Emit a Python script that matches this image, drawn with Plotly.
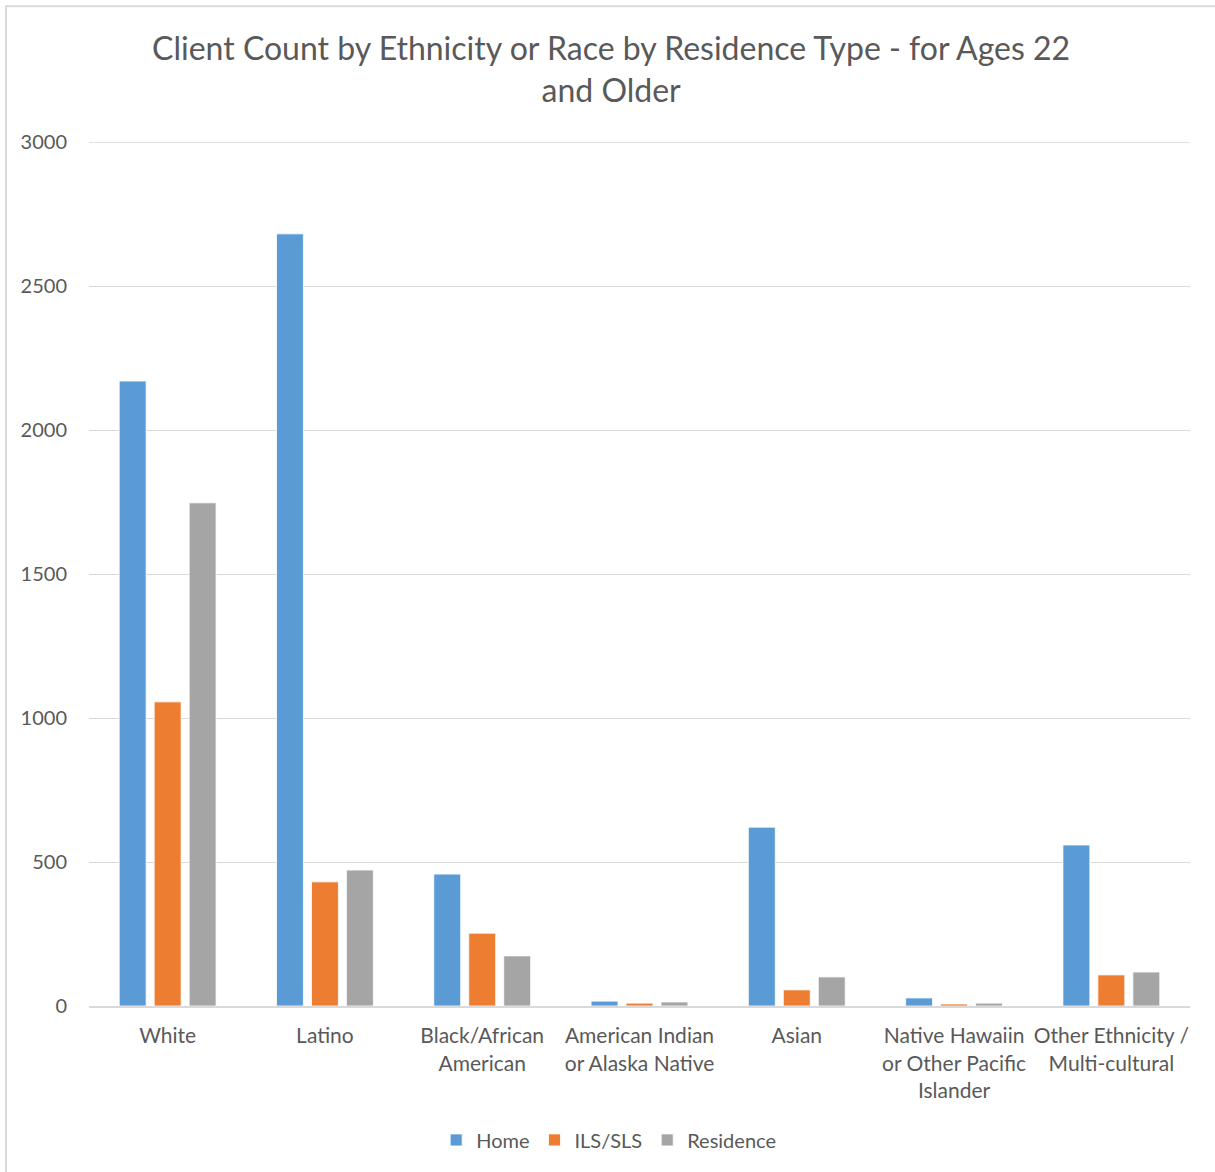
import plotly.graph_objects as go

# Client counts (ages 22+) by ethnicity/race and residence type
categories = [
    "White",
    "Latino",
    "Black/African<br>American",
    "American Indian<br>or Alaska Native",
    "Asian",
    "Native Hawaiin<br>or Other Pacific<br>Islander",
    "Other Ethnicity /<br>Multi-cultural",
]
home = [2170, 2681, 458, 17, 621, 28, 559]
ils_sls = [1056, 431, 253, 10, 56, 7, 108]
residence = [1747, 472, 174, 14, 101, 10, 118]

y_ticks = [0, 500, 1000, 1500, 2000, 2500, 3000]

FONT = "Lato, 'Open Sans', sans-serif"
TEXT = "#595959"
GRID = "#d9d9d9"

fig = go.Figure()
for name, vals, color in [
    ("Home", home, "#5B9BD5"),
    ("ILS/SLS", ils_sls, "#ED7D31"),
    ("Residence", residence, "#A5A5A5"),
]:
    fig.add_trace(go.Bar(
        x=categories, y=vals, name=name,
        marker=dict(color=color, line=dict(color="white", width=0.8)),
    ))

fig.update_layout(
    width=1215, height=1172,
    margin=dict(l=89, r=25, t=142, b=166),
    paper_bgcolor="white", plot_bgcolor="white",
    barmode="group", bargap=0.333, bargroupgap=0.23,
    font=dict(family=FONT, color=TEXT, size=20),
    title=dict(
        text="Client Count by Ethnicity or Race by Residence Type - for Ages 22<br>and Older",
        x=0.503, xanchor="center", y=1 - 60 / 1172, yanchor="middle",
        font=dict(family=FONT, size=32, color=TEXT),
    ),
    legend=dict(
        orientation="h", x=0.472, xanchor="center", y=-0.155, yanchor="middle",
        font=dict(size=20, color=TEXT), itemwidth=30, traceorder="normal",
    ),
    showlegend=True,
)
fig.update_xaxes(
    showgrid=False, showline=True, linecolor=GRID, linewidth=2,
    ticks="", tickfont=dict(size=21, color=TEXT), fixedrange=True,
    ticklabelstandoff=10,
)
fig.update_yaxes(
    range=[0, 3000], tickvals=y_ticks, showgrid=True, gridcolor=GRID,
    gridwidth=1.3, zeroline=False, showline=False, ticks="",
    tickfont=dict(size=20, color=TEXT), ticklabelstandoff=21,
)

# gridline at the top of the value range (sits on the plot edge)
fig.add_shape(
    type="line", xref="paper", yref="y", x0=0, x1=1,
    y0=y_ticks[-1], y1=y_ticks[-1], line=dict(color=GRID, width=1.3), layer="below",
)

# light chart-area frame along the top and left edges
fig.add_shape(
    type="rect", xref="paper", yref="paper",
    x0=-0.0754, x1=1.06, y0=-0.21, y1=1.157,
    line=dict(color=GRID, width=2), fillcolor="rgba(0,0,0,0)", layer="below",
)

fig.write_html("out.html")
